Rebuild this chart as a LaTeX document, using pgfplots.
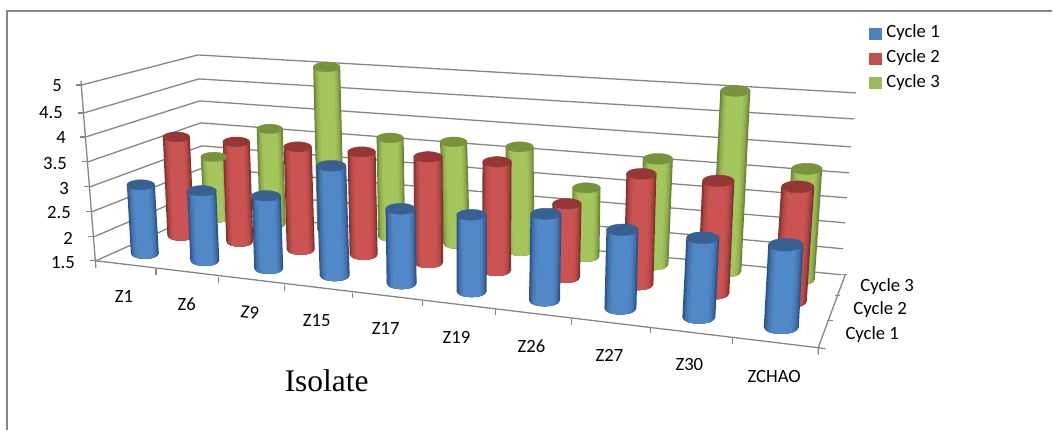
\documentclass[border=0pt]{standalone}
\usepackage{fontspec}
\setmainfont{Carlito}
\newfontfamily\serif{Liberation Serif}
\usepackage{pgfplots}
\pgfplotsset{compat=1.18}

\definecolor{axgray}{HTML}{868686}
\definecolor{lblue}{HTML}{4F81BD}
\definecolor{lred}{HTML}{C0504D}
\definecolor{lgreen}{HTML}{9BBB59}
\definecolor{midblue}{HTML}{5088C8}
\definecolor{midred}{HTML}{CB5352}
\definecolor{midgreen}{HTML}{A4C65C}
\definecolor{topblue}{HTML}{386192}
\definecolor{topred}{HTML}{953735}
\definecolor{topgreen}{HTML}{77933C}
\definecolor{rimblue}{HTML}{2B5080}
\definecolor{rimred}{HTML}{7C2F2D}
\definecolor{rimgreen}{HTML}{667F33}

% one layer of a cylinder side: {series}{mix}{fraction of width}{tx}{ty}{bx}{by}{hw}
\newcommand{\layer}[8]{%
  \edef\body{\noexpand\addplot[draw=none,fill=mid#1!#2!rim#1,forget plot] coordinates {
    (\fpeval{#4-#3*#8},#5) (\fpeval{#4+#3*#8},#5)
    (\fpeval{#6+#3*#8},\fpeval{#7+.36*#8*sqrt(1-(#3)^2)})
    (\fpeval{#6+.7*#3*#8},\fpeval{#7+.36*#8*sqrt(1-(.7*#3)^2)})
    (\fpeval{#6+.35*#3*#8},\fpeval{#7+.36*#8*sqrt(1-(.35*#3)^2)})
    (#6,\fpeval{#7+.36*#8})
    (\fpeval{#6-.35*#3*#8},\fpeval{#7+.36*#8*sqrt(1-(.35*#3)^2)})
    (\fpeval{#6-.7*#3*#8},\fpeval{#7+.36*#8*sqrt(1-(.7*#3)^2)})
    (\fpeval{#6-#3*#8},\fpeval{#7+.36*#8*sqrt(1-(#3)^2)})
    (\fpeval{#4-#3*#8},#5)};}\body
}
% \cyl{series}{top x}{top y}{bottom x}{bottom y}{half width}, in picture pixels
\newcommand{\cyl}[6]{%
  \layer{#1}{0}{1}{#2}{#3}{#4}{#5}{#6}
  \layer{#1}{25}{.94}{#2}{#3}{#4}{#5}{#6}
  \layer{#1}{50}{.87}{#2}{#3}{#4}{#5}{#6}
  \layer{#1}{70}{.79}{#2}{#3}{#4}{#5}{#6}
  \layer{#1}{85}{.69}{#2}{#3}{#4}{#5}{#6}
  \layer{#1}{100}{.56}{#2}{#3}{#4}{#5}{#6}
  \addplot[only marks,mark=*,mark size=#6,
    mark options={yscale=.36,fill=top#1,draw=top#1},forget plot] coordinates {(#2,#3)};
}
\newcommand{\axline}[1]{\addplot[axgray,line width=1.3pt,forget plot] coordinates {#1};}

\begin{document}
\fontsize{18.7}{21}\selectfont
\begin{tikzpicture}
\begin{axis}[
    scale only axis, width=1053pt, height=430pt,
    xmin=0, xmax=1053, ymin=0, ymax=430,
    y dir=reverse, hide axis, clip=false,
  ]
  \addplot[draw=none,fill=white,forget plot] coordinates {(0,0) (1053,0) (1053,430) (0,430) (0,0)};
  % chart frame
  \addplot[axgray,line width=2pt,forget plot] coordinates {(7,430) (7,11) (1053,11)};
  % walls
  \axline{(82,85) (198,55) (857,93)}
  \axline{(84,113) (199,79) (855,119)}
  \axline{(86,137) (200,101) (852,147)}
  \axline{(88,162) (201,123) (850,173)}
  \axline{(90,187) (202,146) (848,198)}
  \axline{(92,212) (203,168) (846,223)}
  \axline{(94,237) (204,190) (844,249)}
  \axline{(96,261) (205,212) (842,275)}
  % axes and ticks
  \axline{(81,81) (96,268)}
  \axline{(96,261) (819,348)}
  \axline{(819,355) (819,348) (846,275)}
  \axline{(76,85) (82,85)} \axline{(78,113) (84,113)} \axline{(80,137) (86,137)}
  \axline{(82,162) (88,162)} \axline{(84,187) (90,187)} \axline{(86,212) (92,212)}
  \axline{(88,237) (94,237)} \axline{(90,261) (96,261)}
  \axline{(156,269) (156,275)} \axline{(219,277) (219,283)} \axline{(285,285) (285,291)}
  \axline{(353,293) (353,298)} \axline{(423,301) (423,306)} \axline{(496,309) (496,315)}
  \axline{(572,319) (572,325)} \axline{(651,328) (651,333)} \axline{(733,338) (733,344)}
  \axline{(819,348) (826,349)} \axline{(828,321) (834,321)} \axline{(836,296) (841,296)}
  \axline{(843,275) (848,275)}

  % Cycle 3
  \cyl{green}{214}{157}{217}{218}{13}
  \cyl{green}{270}{129}{273}{224}{13}
  \cyl{green}{327}{67}{331}{230}{13.5}
  \cyl{green}{390.5}{138}{392}{237}{13.5}
  \cyl{green}{454}{142}{457}{244}{13.5}
  \cyl{green}{520}{147}{521}{251}{14}
  \cyl{green}{587}{188}{586}{257}{14}
  \cyl{green}{658.5}{159}{654}{265}{15}
  \cyl{green}{736}{91}{727}{272}{15}
  \cyl{green}{807.5}{169}{800}{280}{15.5}
  % Cycle 2
  \cyl{red}{176.5}{137}{181}{236}{13.5}
  \cyl{red}{236.5}{142}{240}{242}{13.5}
  \cyl{red}{298}{147}{301}{250}{14}
  \cyl{red}{362}{152}{364}{255}{14}
  \cyl{red}{428.5}{157}{429}{263}{14.5}
  \cyl{red}{497.5}{162}{497}{271}{14.5}
  \cyl{red}{567.5}{204}{566}{278}{14.5}
  \cyl{red}{642}{174}{639}{285}{15}
  \cyl{red}{719}{181}{714}{294}{16}
  \cyl{red}{798.5}{187}{791}{302}{16.5}
  % Cycle 1
  \cyl{blue}{141}{185}{145}{254}{14}
  \cyl{blue}{202}{191}{205}{261}{14.5}
  \cyl{blue}{266.5}{196}{269}{269}{14.5}
  \cyl{blue}{331.5}{166}{335}{276}{15}
  \cyl{blue}{401}{209}{402}{284}{15}
  \cyl{blue}{472}{215}{472}{292}{15}
  \cyl{blue}{546.5}{214}{545}{301}{15.5}
  \cyl{blue}{623}{230}{621}{309}{16}
  \cyl{blue}{703.5}{238}{699.5}{318}{16.5}
  \cyl{blue}{786.5}{245}{782}{328}{17.5}

  % legend
  \addplot[only marks,mark=square*,mark size=5.7,mark options={fill=lblue,draw=lblue},forget plot] coordinates {(876,34)};
  \addplot[only marks,mark=square*,mark size=5.7,mark options={fill=lred,draw=lred},forget plot] coordinates {(876,59)};
  \addplot[only marks,mark=square*,mark size=5.7,mark options={fill=lgreen,draw=lgreen},forget plot] coordinates {(876,83)};
  \node[anchor=west,inner sep=0pt] at (887,33) {Cycle 1};
  \node[anchor=west,inner sep=0pt] at (887,58) {Cycle 2};
  \node[anchor=west,inner sep=0pt] at (887,83) {Cycle 3};

  % value labels
  \node[anchor=east,inner sep=0pt] at (62,86) {5};
  \node[anchor=east,inner sep=0pt] at (63,113) {4.5};
  \node[anchor=east,inner sep=0pt] at (66,138) {4};
  \node[anchor=east,inner sep=0pt] at (67,164) {3.5};
  \node[anchor=east,inner sep=0pt] at (69,189) {3};
  \node[anchor=east,inner sep=0pt] at (71,213) {2.5};
  \node[anchor=east,inner sep=0pt] at (73,239) {2};
  \node[anchor=east,inner sep=0pt] at (75,263) {1.5};

  % isolates
  \node at (124,297) {Z1};
  \node at (187,305) {Z6};
  \node[rotate=-6] at (250,313) {Z9};
  \node at (317,321) {Z15};
  \node at (386,329) {Z17};
  \node at (457,338) {Z19};
  \node at (532,347) {Z26};
  \node at (610,356) {Z27};
  \node at (690,365) {Z30};
  \node at (775,377) {ZCHAO};

  % depth labels
  \node at (888,287) {Cycle 3};
  \node at (881,310) {Cycle 2};
  \node at (873,335) {Cycle 1};

  \node[font=\serif\fontsize{31.5}{36}\selectfont,text=black] at (327,381) {Isolate};
\end{axis}
\end{tikzpicture}
\end{document}
